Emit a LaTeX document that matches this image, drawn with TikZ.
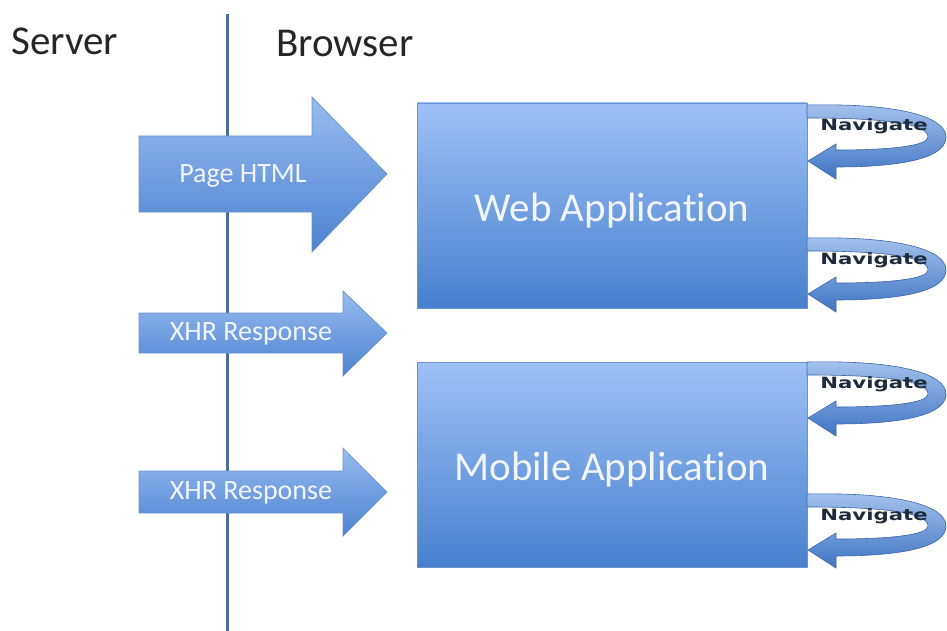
\documentclass[tikz,border=0pt]{standalone}
\usepackage{fontspec}
\setmainfont{Carlito}[RawFeature={-liga;-clig;-calt}]
\newfontfamily\navfont{DejaVu Sans}
\definecolor{linecol}{HTML}{4A6D9C}
\definecolor{boxtop}{HTML}{9DC1F6}
\definecolor{boxbot}{HTML}{4880CD}
\definecolor{boxedge}{HTML}{6A93CC}
\definecolor{arrtop}{HTML}{97BCF1}
\definecolor{arrbot}{HTML}{4C82CF}
\definecolor{looptop}{HTML}{A4C3EE}
\definecolor{loopbot}{HTML}{3F74C2}
\definecolor{loopedge}{HTML}{3A66A8}
\definecolor{labcol}{HTML}{F2F6FC}
\definecolor{navcol}{HTML}{1E2B3C}
\begin{document}
\begin{tikzpicture}[x=1pt,y=-1pt,
  appbox/.style={draw=boxedge,line width=0.8pt,top color=boxtop,bottom color=boxbot,
    minimum width=390pt,minimum height=205pt,inner sep=0pt},
  applabel/.style={text=labcol,inner sep=0pt,font=\fontsize{41}{48}\selectfont},
  bigarrow/.style={draw=boxedge,line width=0.7pt,top color=arrtop,bottom color=arrbot},
  arrlabel/.style={text=labcol,font=\fontsize{28}{33}\selectfont,inner sep=0pt},
  loopshape/.style={draw=loopedge,line width=0.6pt,top color=looptop,bottom color=loopbot},
  navtext/.style={text=navcol,anchor=base,inner sep=0pt,font=\navfont\bfseries\fontsize{15.5}{18}\selectfont},
  headtext/.style={anchor=base west,inner sep=0pt,text=black!85,font=\fontsize{41}{48}\selectfont}]
\useasboundingbox (0,0) rectangle (947,631);
\fill[white] (0,0) rectangle (947,631);
% divider line
\coordinate (ltop) at (227,14);
\coordinate (lbot) at (227,631);
\draw[linecol,line width=3pt] (ltop) -- (lbot);
% headings
\node[headtext] (server) at (11,55) {Server};
\node[headtext] (browser) at (276,57) {Browser};
% boxes
\node[appbox] (web) at (612,205.5) {};
\node[applabel] (weblab) at ([yshift=-5pt]web.center) {Web Applica\kern0pt tion};
\node[appbox] (mobile) at (612,465) {};
\node[applabel] (moblab) at ([yshift=-5pt]mobile.center) {Mobile Applica\kern0pt tion};
% arrows
\draw[bigarrow] (139,136) -- (312,136) -- (312,97) -- (387,174) -- (312,252) -- (312,212) -- (139,212) -- cycle;
\node[arrlabel] (page) at (243,176) {Page HTML};
\draw[bigarrow] (139,313) -- (343,313) -- (343,291) -- (387,333) -- (343,376) -- (343,353) -- (139,353) -- cycle;
\node[arrlabel] (xhr1) at (251,334) {XHR Response};
\draw[bigarrow] (139,471) -- (343,471) -- (343,448) -- (387,492) -- (343,536) -- (343,513) -- (139,513) -- cycle;
\node[arrlabel] (xhr2) at (251,493) {XHR Response};
% navigate loops
\foreach \T/\nm in {105/nava,238/navb,362/navc,494/navd}{
  \begin{scope}[yshift=-\T pt]
    \draw[loopshape] (807,0) .. controls (900,-2) and (946,12) .. (946,32)
      .. controls (946,56) and (890,62) .. (836,62) -- (836,74) -- (808,56) -- (836,39) -- (836,45)
      .. controls (890,45) and (928,41) .. (928,32)
      .. controls (928,18) and (880,13) .. (807,13) -- cycle;
    \node[navtext] (\nm) at (874,26) {\scalebox{1.37}[1]{Navigate}};
  \end{scope}
}
\end{tikzpicture}
\end{document}
